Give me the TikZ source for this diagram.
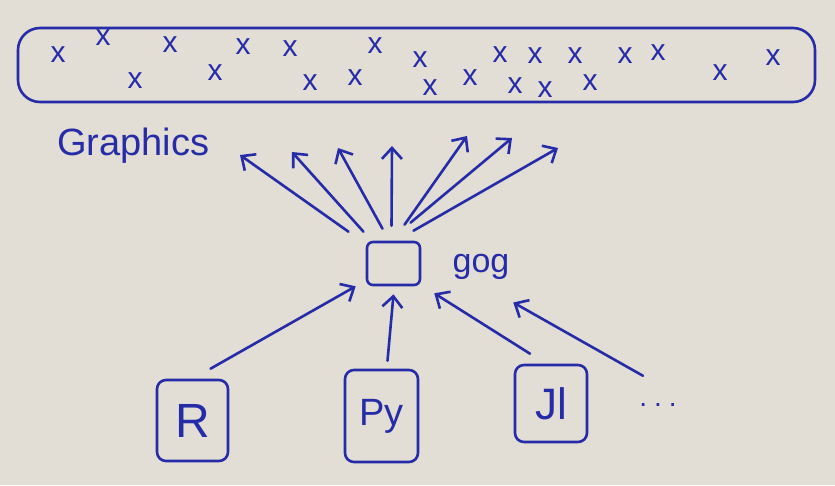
\documentclass[tikz,border=0pt]{standalone}
\usepackage{fontspec}
\setmainfont{Liberation Sans}
\usetikzlibrary{arrows.meta}
\usepackage{xcolor}
\definecolor{cink}{RGB}{38,44,168}
\definecolor{cpaper}{RGB}{226,222,213}

\tikzset{
	ink/.style={draw=cink, line width=2.6pt, line cap=round, line join=round},
	langbox/.style={ink, rounded corners=9pt, inner sep=0pt, text=cink},
	hand/.style={ink, -{Straight Barb[length=11pt, width=20pt, line width=2.6pt]}},
	xmark/.style={inner sep=0pt, text=cink, font=\fontsize{30}{30}\selectfont}
}

\begin{document}
\begin{tikzpicture}[x=1pt, y=-1pt]
		\def\xleft{0}
		\def\xright{835}
		\def\yup{0}
		\def\ydown{485}
		\fill[cpaper] (\xleft, \yup) rectangle (\xright, \ydown);
		\useasboundingbox (\xleft, \yup) rectangle (\xright, \ydown);

		% Graphics band
		\node[ink, rounded corners=22pt, minimum width=797pt, minimum height=74pt] (graphics) at (416.5, 65) {};
		\foreach \xa/\ya [count=\i] in {58/55, 103/38, 170/45, 243/47, 290/49, 375/46, 420/60, 500/55, 535/56, 575/56, 625/56, 658/53, 773/58,
				135/81, 215/73, 310/83, 355/78, 430/88, 470/78, 515/86, 545/90, 590/83, 720/73}
			\node[xmark] (x\i) at (\xa, \ya) {x};
		\node[anchor=base west, inner sep=0pt, text=cink, font=\fontsize{38}{40}\selectfont] (glabel) at (57, 155) {Graphics};

		% gog
		\node[langbox, rounded corners=6pt, minimum width=53pt, minimum height=43pt] (gog) at (393.5, 263.5) {};
		\node[inner sep=0pt, text=cink, font=\fontsize{34}{36}\selectfont, anchor=base] (goglabel) at (481, 272) {gog};

		% Languages
		\node[langbox, minimum width=71pt, minimum height=81pt, font=\fontsize{48}{50}\selectfont] (R) at (192.5, 420.5) {R};
		\node[langbox, minimum width=73pt, minimum height=92pt, font=\fontsize{38}{40}\selectfont] (Py) at (381.5, 416) {Py};
		\node[langbox, minimum width=72pt, minimum height=77pt, font=\fontsize{44}{46}\selectfont] (Jl) at (551, 403.5) {Jl};
		\node[inner sep=0pt, text=cink, font=\fontsize{28}{30}\selectfont, anchor=base] (more) at (658, 406) {.\kern7pt.\kern7pt.};

		% Output arrows
		\coordinate (h1) at (240, 155);
		\coordinate (h2) at (292, 152);
		\coordinate (h3) at (338, 148);
		\coordinate (h4) at (392, 146);
		\coordinate (h5) at (467, 136);
		\coordinate (h6) at (512, 138);
		\coordinate (h7) at (558, 148);
		\draw[hand] ([shift={(-45,-9)}]gog.north) -- (h1);
		\draw[hand] ([shift={(-30,-9)}]gog.north) -- (h2);
		\draw[hand] ([shift={(-11,-12)}]gog.north) -- (h3);
		\draw[hand] ([shift={(-2,-15)}]gog.north) -- (h4);
		\draw[hand] ([shift={(11,-16)}]gog.north) -- (h5);
		\draw[hand] ([shift={(17,-18)}]gog.north) -- (h6);
		\draw[hand] ([shift={(20,-10)}]gog.north) -- (h7);

		% Input arrows
		\draw[hand] ([shift={(18,-10)}]R.north) -- ([shift={(-10,0)}]gog.south west);
		\draw[hand] ([shift={(6,-8)}]Py.north) -- ([shift={(0,8)}]gog.south);
		\draw[hand] ([shift={(-21,-10)}]Jl.north) -- ([shift={(13,7)}]gog.south east);
		\draw[hand] ([shift={(-15,-27)}]more.north) -- ([shift={(92,39)}]gog.east);
	\end{tikzpicture}
\end{document}
